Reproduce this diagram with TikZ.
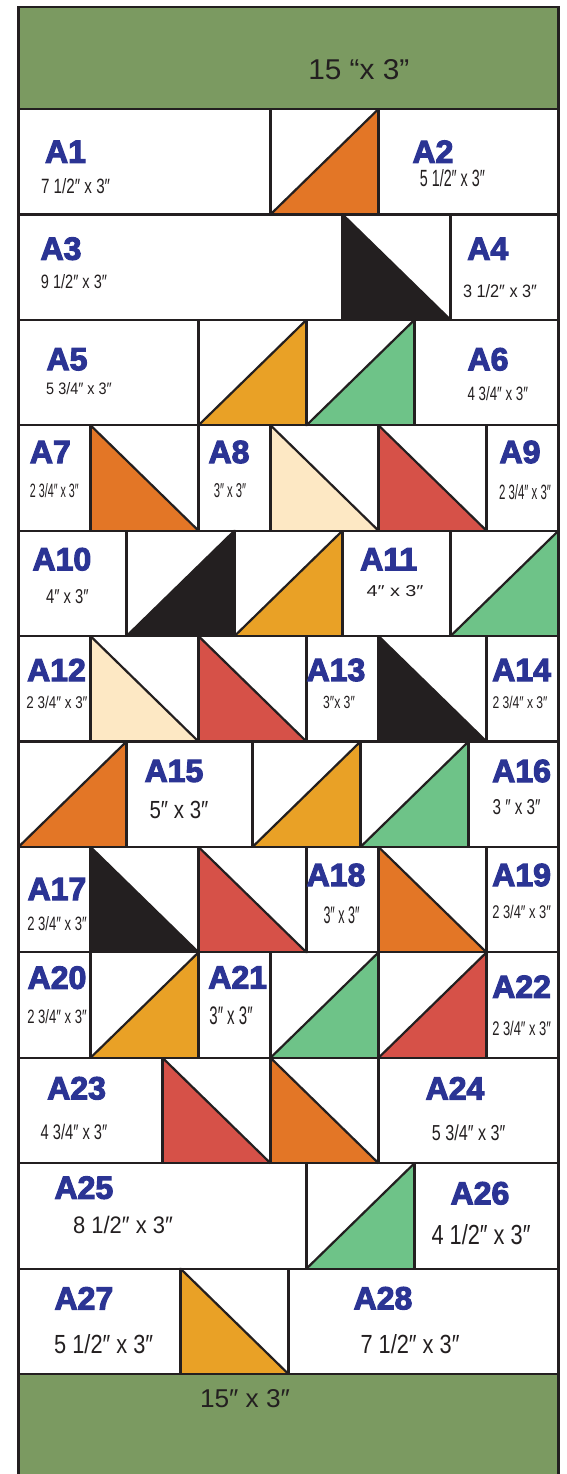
\documentclass[tikz,border=0pt]{standalone}
\usepackage{fontspec}
\setmainfont{Liberation Sans}
\newfontfamily\labfont{Liberation Sans}[BoldFeatures={FakeBold=3.5}]
\definecolor{band}{HTML}{7B9A61}
\definecolor{qorange}{HTML}{E37626}
\definecolor{qgold}{HTML}{E9A126}
\definecolor{qgreen}{HTML}{6EC388}
\definecolor{qblack}{HTML}{231F20}
\definecolor{qred}{HTML}{D65148}
\definecolor{qcream}{HTML}{FDE8C4}
\definecolor{qblue}{HTML}{2B3494}
\definecolor{qline}{HTML}{231F20}
\newcommand\dmt[3]{\resizebox{#1pt}{#2pt}{#3}}
\begin{document}
\begin{tikzpicture}[x=1pt,y=-1pt,
  ql/.style={draw=qline,line width=2.2pt,line cap=rect},
  lab/.style={text=qblue,font=\labfont\fontsize{32}{32}\selectfont\bfseries,inner sep=0pt},
  dm/.style={text=qline,inner sep=0pt}]
\useasboundingbox (0,0) rectangle (566,1474);
\fill[white] (0,0) rectangle (566,1474);
% green bands
\fill[band] (18.5,7) rectangle (558.5,109);
\fill[band] (18.5,1374) rectangle (558.5,1474);
\begin{scope}[shift={(18.5,109)},x=36pt,y=-105.42pt]
  % half-square triangles, diagonal bottom-left to top-right
  \foreach \r/\x/\c in {0/7/qorange,2/5/qgold,2/8/qgreen,4/3/qblack,4/6/qgold,4/12/qgreen,
      6/0/qorange,6/6.5/qgold,6/9.5/qgreen,8/2/qgold,8/7/qgreen,8/10/qred,10/8/qgreen}{
    \fill[\c] (\x,\r+1) -- (\x+3,\r) -- (\x+3,\r+1) -- cycle;
    \draw[ql,line cap=round] (\x,\r+1) -- (\x+3,\r);
  }
  % half-square triangles, diagonal top-left to bottom-right
  \foreach \r/\x/\c in {1/9/qblack,3/2/qorange,3/7/qcream,3/10/qred,5/2/qcream,5/5/qred,
      5/10/qblack,7/2/qblack,7/5/qred,7/10/qorange,9/4/qred,9/7/qorange,11/4.5/qgold}{
    \fill[\c] (\x,\r) -- (\x+3,\r+1) -- (\x,\r+1) -- cycle;
    \draw[ql,line cap=round] (\x,\r) -- (\x+3,\r+1);
  }
  % row lines
  \foreach \r in {0,...,12}{ \draw[ql] (0,\r) -- (15,\r); }
  % seams inside rows
  \foreach \r/\xs in {0/{7,10},1/{9,12},2/{5,8,11},3/{2,5,7,10,13},4/{3,6,9,12},
      5/{2,5,8,10,13},6/{3,6.5,9.5,12.5},7/{2,5,8,10,13},8/{2,5,7,10,13},
      9/{4,7,10},10/{8,11},11/{4.5,7.5}}{
    \foreach \x in \xs { \draw[ql] (\x,\r) -- (\x,\r+1); }
  }
\end{scope}
% outer frame
\draw[draw=qline,line width=2.2pt,line join=miter] (18.5,1480) -- (18.5,7) -- (558.5,7) -- (558.5,1480);
% band texts
\node[dm] (top) at (358.8,70) {\dmt{101}{20}{15 “x 3”}};
\node[dm] (bot) at (245,1399) {\dmt{90}{18}{15″ x 3″}};
% labels and sizes
\node[lab] (a1) at (65.5,151.7) {A1};
\node[dm] (a1d) at (75.6,185.7) {\dmt{69}{15}{7 1/2″ x 3″}};
\node[lab] (a2) at (433,151.7) {A2};
\node[dm] (a2d) at (452.4,178) {\dmt{65}{17}{5 1/2″ x 3″}};
\node[lab] (a3) at (61,248.7) {A3};
\node[dm] (a3d) at (74,281.7) {\dmt{66}{14}{9 1/2″ x 3″}};
\node[lab] (a4) at (487.8,248.7) {A4};
\node[dm] (a4d) at (500,291) {\dmt{74}{13}{3 1/2″ x 3″}};
\node[lab] (a5) at (67,359.3) {A5};
\node[dm] (a5d) at (79,389) {\dmt{65.5}{12}{5 3/4″ x 3″}};
\node[lab] (a6) at (488,359.3) {A6};
\node[dm] (a6d) at (497.8,393.7) {\dmt{60.5}{14}{4 3/4″ x 3″}};
\node[lab] (a7) at (50.3,452) {A7};
\node[dm] (a7d) at (54.3,490.3) {\dmt{48.6}{14}{2 3/4″ x 3″}};
\node[lab] (a8) at (229,452) {A8};
\node[dm] (a8d) at (230,490.3) {\dmt{32.4}{14}{3″ x 3″}};
\node[lab] (a9) at (520,452) {A9};
\node[dm] (a9d) at (525,492) {\dmt{52}{15}{2 3/4″ x 3″}};
\node[lab] (a10) at (61.9,559.3) {A10};
\node[dm] (a10d) at (67.3,597) {\dmt{42.5}{14}{4″ x 3″}};
\node[lab] (a11) at (388.7,559.3) {A11};
\node[dm] (a11d) at (395,591) {\dmt{57}{11}{4″  x 3″}};
\node[lab] (a12) at (56.5,670) {A12};
\node[dm] (a12d) at (57,702.7) {\dmt{61}{12.3}{2 3/4″ x 3″}};
\node[lab] (a13) at (336,670) {A13};
\node[dm] (a13d) at (339,702.7) {\dmt{31.7}{12.3}{3″x 3″}};
\node[lab] (a14) at (521.6,670) {A14};
\node[dm] (a14d) at (520,702.7) {\dmt{55}{12.3}{2 3/4″ x 3″}};
\node[lab] (a15) at (174,771) {A15};
\node[dm] (a15d) at (179,809.7) {\dmt{58.7}{17.3}{5″ x 3″}};
\node[lab] (a16) at (521.6,771) {A16};
\node[dm] (a16d) at (516.6,807) {\dmt{48}{15}{3 ″ x 3″}};
\node[lab] (a17) at (57,889) {A17};
\node[dm] (a17d) at (57,923.7) {\dmt{59.4}{14}{2 3/4″ x 3″}};
\node[lab] (a18) at (336,875) {A18};
\node[dm] (a18d) at (341.5,915) {\dmt{36}{16.7}{3″ x 3″}};
\node[lab] (a19) at (521.6,875) {A19};
\node[dm] (a19d) at (521.6,911.7) {\dmt{58.7}{13.3}{2 3/4″ x 3″}};
\node[lab] (a20) at (57,977.7) {A20};
\node[dm] (a20d) at (57,1017) {\dmt{59.4}{14}{2 3/4″ x 3″}};
\node[lab] (a21) at (237.7,977.3) {A21};
\node[dm] (a21d) at (231,1015.3) {\dmt{43.2}{17.7}{3″ x 3″}};
\node[lab] (a22) at (521.6,986.7) {A22};
\node[dm] (a22d) at (521.6,1028.7) {\dmt{58.7}{14.3}{2 3/4″ x 3″}};
\node[lab] (a23) at (76.6,1088.3) {A23};
\node[dm] (a23d) at (74,1131.7) {\dmt{66.6}{15.3}{4 3/4″ x 3″}};
\node[lab] (a24) at (455,1088.3) {A24};
\node[dm] (a24d) at (468.6,1132.7) {\dmt{73.4}{15.7}{5 3/4″ x 3″}};
\node[lab] (a25) at (83.9,1187.7) {A25};
\node[dm] (a25d) at (123,1225.3) {\dmt{99.7}{17.3}{8 1/2″ x 3″}};
\node[lab] (a26) at (480,1193.3) {A26};
\node[dm] (a26d) at (481,1235) {\dmt{99}{20}{4 1/2″ x 3″}};
\node[lab] (a27) at (83.9,1298.3) {A27};
\node[dm] (a27d) at (103.7,1344.3) {\dmt{99}{19}{5 1/2″ x 3″}};
\node[lab] (a28) at (383,1298.3) {A28};
\node[dm] (a28d) at (410,1344.3) {\dmt{99}{19}{7 1/2″ x 3″}};
\end{tikzpicture}
\end{document}
